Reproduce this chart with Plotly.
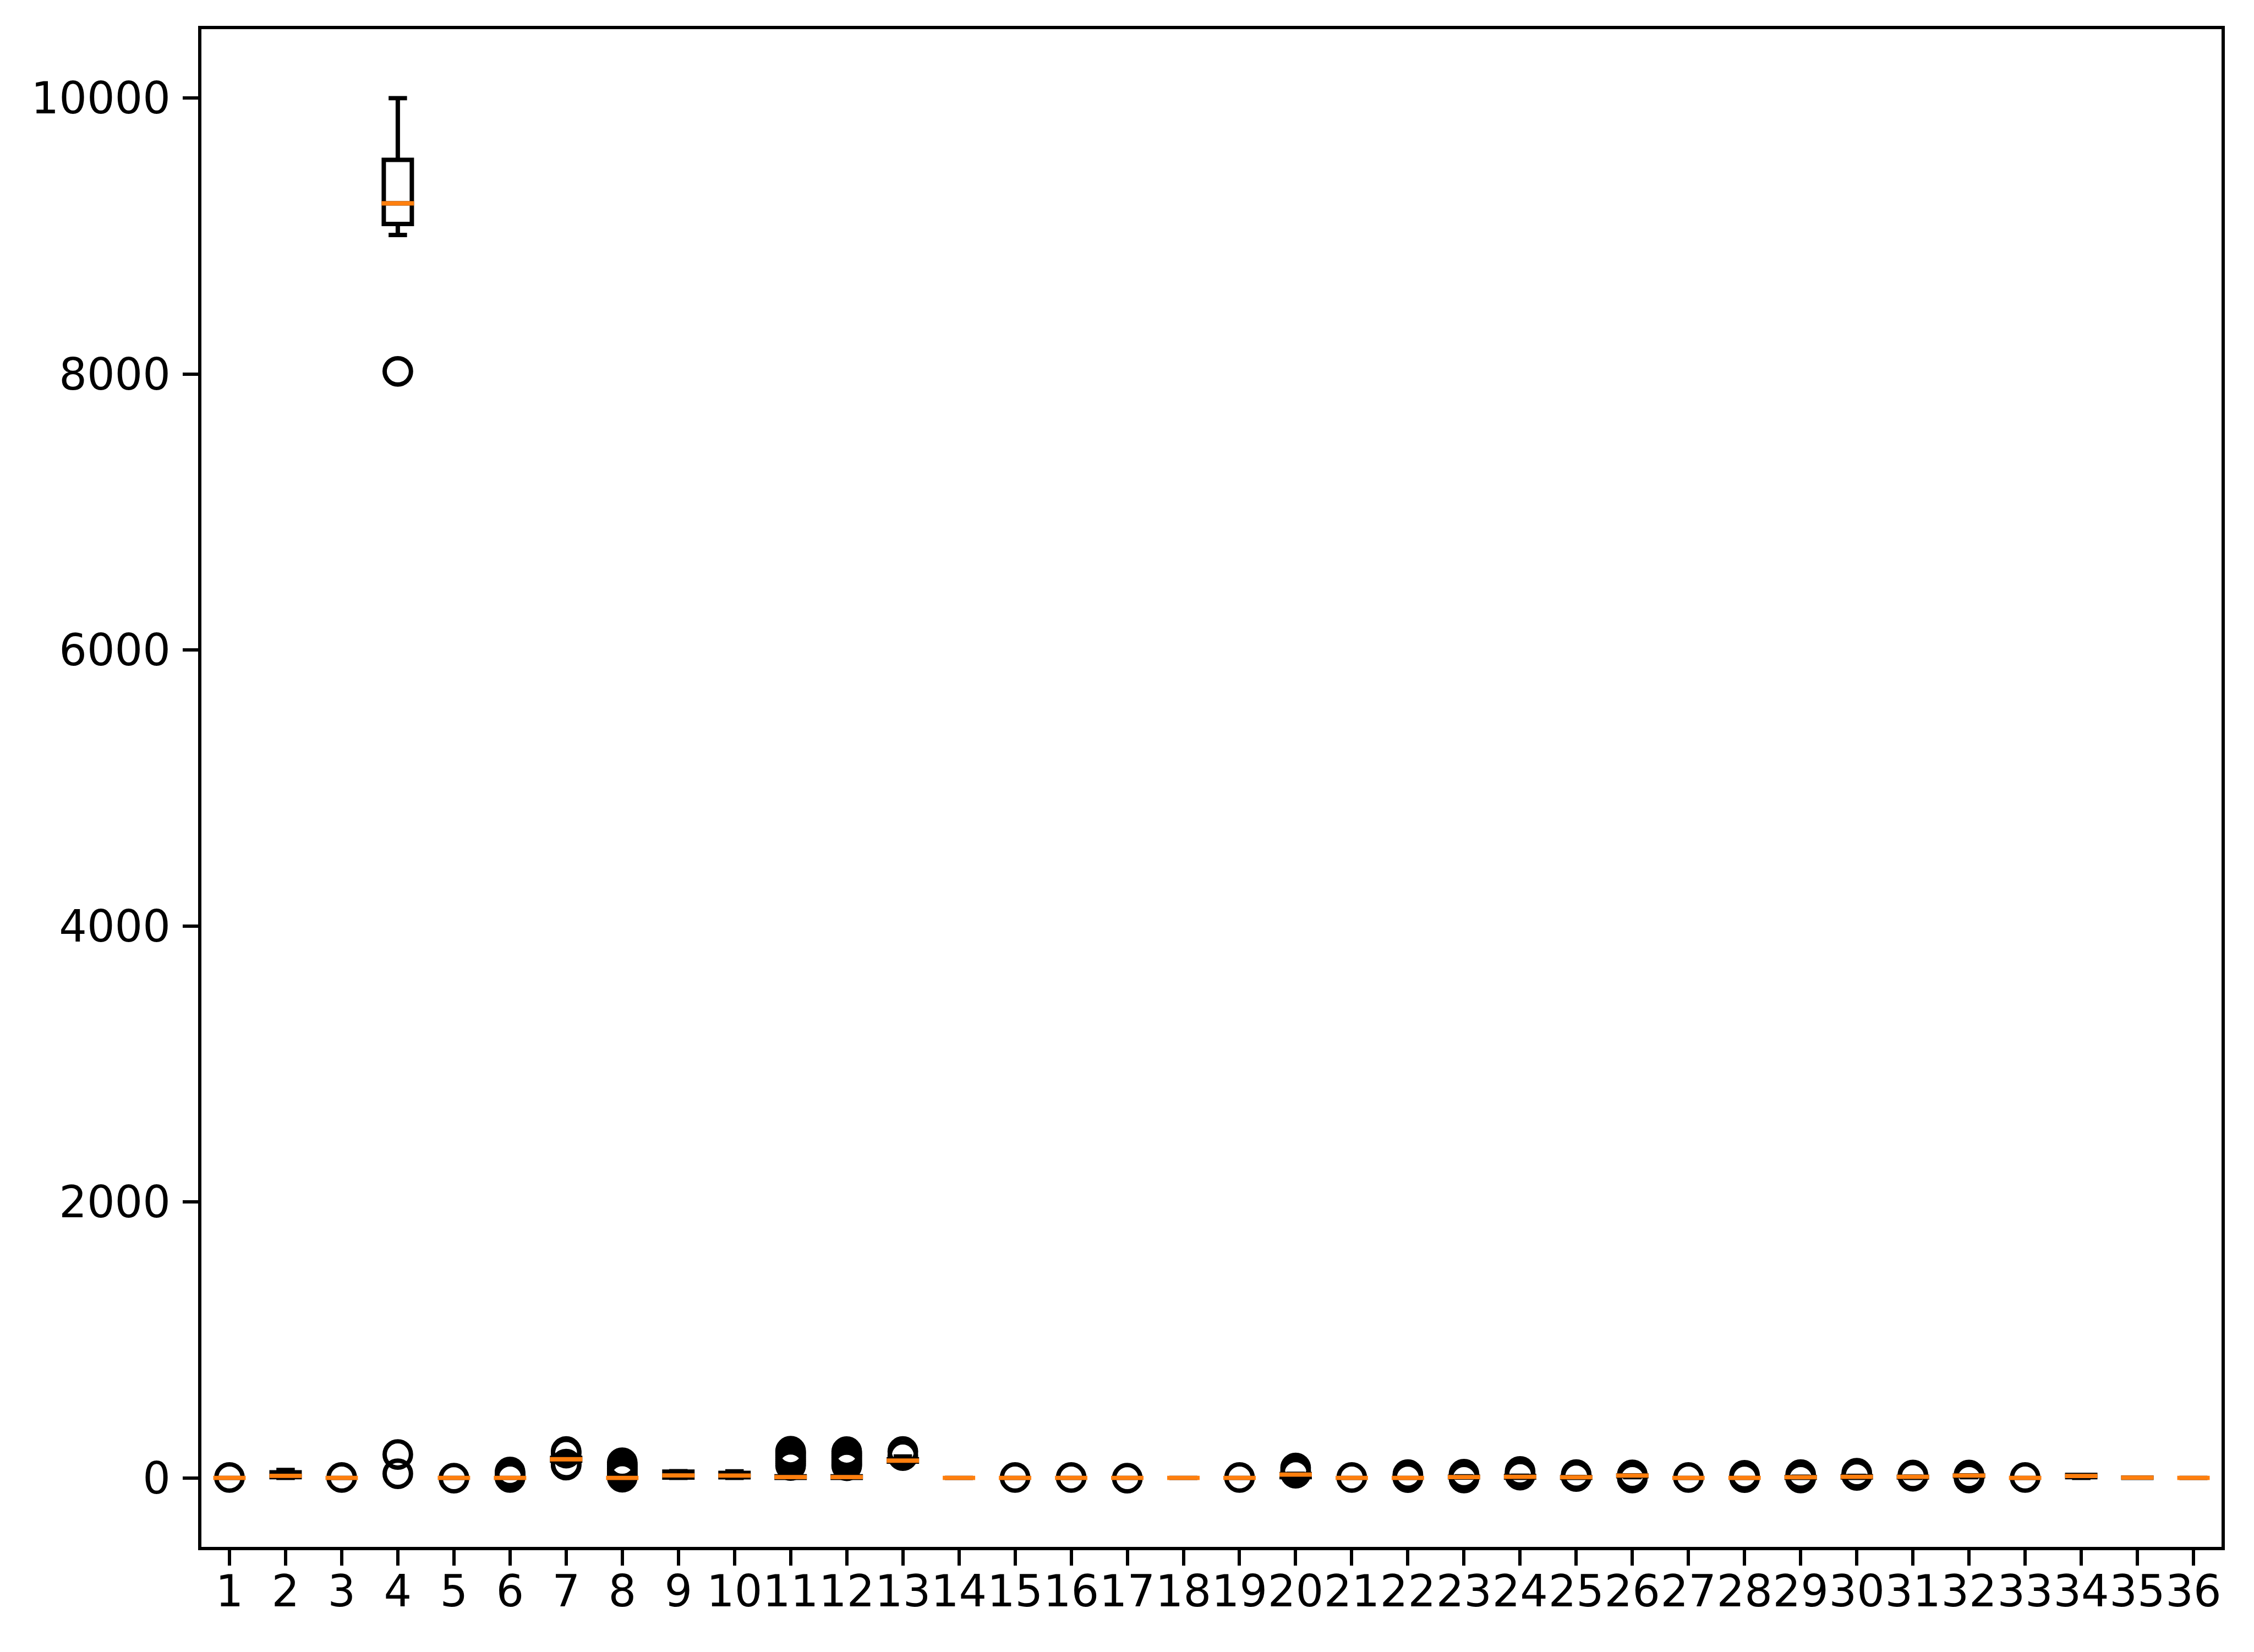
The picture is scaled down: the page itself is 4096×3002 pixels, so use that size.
import plotly.graph_objects as go

# ---- data ----
positions = list(range(1, 37))
whislo = [0, 0, 0, 9008, 0, 0, 110, 0, 0, 0, 0, 0, 105, 0, 0, 0, 0, 0,
          0, 0, 0, 0, 2, 0, 0, 5, 0, 0, 0, 0, 0, 5, 0, 0, 0, 0]
q1 = [0, 5, 0, 9088, 0, 0, 125, 0, 2, 4, 0, 0, 118, 0, 0, 0, 0, 0,
      0, 5, 0, 0, 4, 2, 0, 12, 0, 0, 0, 3, 3, 12, 0, 5, 0, 0]
medians = [0, 15, 0, 9238, 0, 0, 135, 0, 18, 17, 6, 6, 125, 0, 0, 0, 0, 0,
           0, 24, 0, 0, 6, 8, 5, 17, 0, 0, 5, 8, 8, 17, 0, 14, 2, 0]
q3 = [0, 41, 0, 9553, 0, 0, 145, 0, 45, 37, 12, 12, 135, 0, 0, 0, 0, 0,
      0, 28, 0, 0, 9, 14, 6, 18, 0, 0, 7, 13, 9, 18, 0, 22, 3, 0]
whishi = [0, 57, 0, 10000, 0, 0, 165, 0, 48, 47, 30, 30, 155, 0, 0, 0, 0, 0,
          0, 30, 0, 0, 12, 16, 7, 19, 0, 0, 9, 15, 10, 19, 0, 22, 3, 0]
fliers = [
    [3], [], [3], [30, 170, 8020], [-2], [3, 12, 22, 32, 43],
    [93, 100, 180, 191], [5, 20, 35, 50, 65, 80, 95, 110], [], [],
    [90, 105, 120, 135, 150, 165, 180, 193],
    [88, 100, 115, 130, 145, 160, 175, 190],
    [162, 191], [], [3], [3], [-2], [], [3], [34, 52, 72], [3],
    [2, 10, 24], [-1, 27], [20, 32, 47], [10, 24], [-1, 22], [3],
    [2, 19], [-1, 24], [18, 34], [12, 21], [-1, 21], [3], [], [], [],
]
ytick_vals = [0, 2000, 4000, 6000, 8000, 10000]
ytick_text = ["0", "2000", "4000", "6000", "8000", "10000"]
xtick_text = [str(p) for p in positions]

# ---- styling (matplotlib look at 0.956 scale, 600 dpi reference) ----
PT = 600 / 72 * 0.956          # pixels per point
W, H = 4096, 3002
ML, MR, MT, MB = 366, 59, 53, 191
BOX_W = 0.5
plot_w = W - ML - MR
px_per_unit = plot_w / 36.0
ORANGE = "#ff7f0e"
FONT = dict(family="DejaVu Sans", size=10 * PT, color="black")

fig = go.Figure()

fig.add_trace(go.Box(
    x=positions, q1=q1, median=medians, q3=q3,
    lowerfence=whislo, upperfence=whishi,
    width=BOX_W,
    whiskerwidth=(BOX_W / 2 + 1.0 * PT / px_per_unit) / BOX_W,
    boxpoints=False,
    line=dict(color="black", width=1.0 * PT),
    fillcolor="rgba(0,0,0,0)",
    showlegend=False, hoverinfo="skip",
))

fx, fy = [], []
for p, fl in zip(positions, fliers):
    for v in fl:
        fx.append(p)
        fy.append(v)
fig.add_trace(go.Scatter(
    x=fx, y=fy, mode="markers",
    marker=dict(symbol="circle-open", size=6 * PT,
                color="black", line=dict(color="black", width=1.0 * PT)),
    showlegend=False, hoverinfo="skip",
))

# plotly's line-ew symbol is 1.4 * size long
fig.add_trace(go.Scatter(
    x=positions, y=medians, mode="markers",
    marker=dict(symbol="line-ew", size=(BOX_W * px_per_unit + 1.0 * PT) / 1.4,
                color=ORANGE, line=dict(color=ORANGE, width=1.0 * PT)),
    showlegend=False, hoverinfo="skip",
))

axis_common = dict(
    showline=True, linecolor="black", linewidth=0.8 * PT, mirror=True,
    ticks="outside", ticklen=3.5 * PT, tickwidth=0.8 * PT, tickcolor="black",
    showgrid=False, zeroline=False, tickfont=FONT, tickangle=0,
)
fig.update_xaxes(range=[0.5, 36.5], tickmode="array", tickvals=positions,
                 ticktext=xtick_text, ticklabelstandoff=-22, **axis_common)
fig.update_yaxes(range=[-500, 10500], tickmode="array", tickvals=ytick_vals,
                 ticktext=ytick_text, ticklabelstandoff=6, **axis_common)

fig.update_layout(
    width=W, height=H,
    margin=dict(l=ML, r=MR, t=MT, b=MB, pad=0),
    paper_bgcolor="white", plot_bgcolor="white",
    font=FONT, showlegend=False,
)

fig.write_html("out.html")
